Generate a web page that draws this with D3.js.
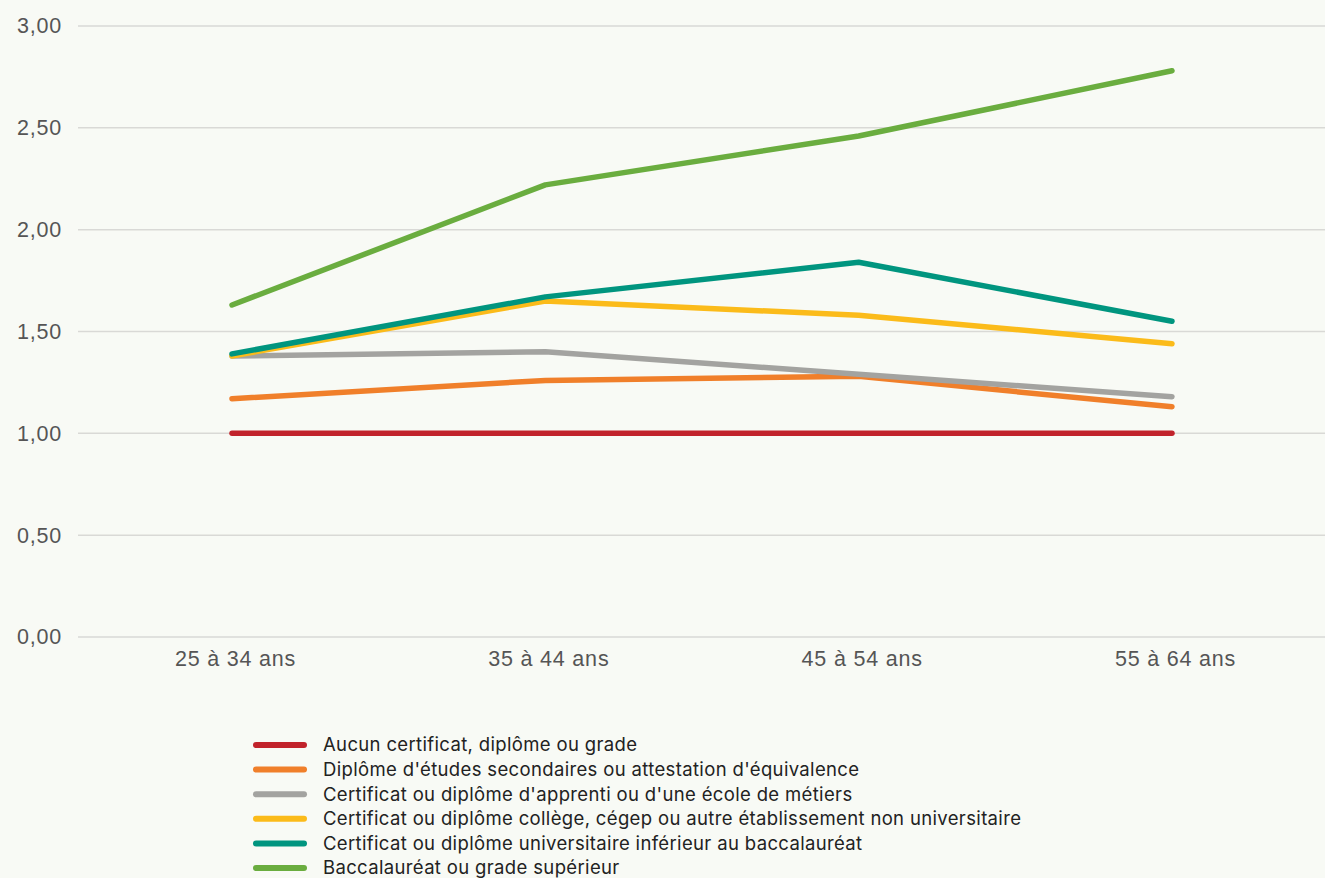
<!DOCTYPE html>
<html><head><meta charset="utf-8">
<script src="https://cdn.jsdelivr.net/npm/d3@7"></script>
<style>
html,body{margin:0;padding:0;background:#f8faf5;}
svg{display:block;}
</style></head>
<body>
<svg id="chart" width="1325" height="878"></svg>
<script>
const categories = ["25 à 34 ans", "35 à 44 ans", "45 à 54 ans", "55 à 64 ans"];
const seriesNames = [
  "Aucun certificat, diplôme ou grade",
  "Diplôme d'études secondaires ou attestation d'équivalence",
  "Certificat ou diplôme d'apprenti ou d'une école de métiers",
  "Certificat ou diplôme collège, cégep ou autre établissement non universitaire",
  "Certificat ou diplôme universitaire inférieur au baccalauréat",
  "Baccalauréat ou grade supérieur"
];
const aucun = [1.00, 1.00, 1.00, 1.00];
const secondaire = [1.17, 1.26, 1.28, 1.13];
const apprenti = [1.38, 1.40, 1.29, 1.18];
const college = [1.38, 1.65, 1.58, 1.44];
const universitaire = [1.39, 1.67, 1.84, 1.55];
const baccalaureat = [1.63, 2.22, 2.46, 2.78];
const seriesValues = [aucun, secondaire, apprenti, college, universitaire, baccalaureat];
const colors = ["#c1232b", "#f07f2a", "#a3a3a0", "#fbbb1a", "#00957f", "#6aad3f"];
const yTicks = [0, 0.5, 1, 1.5, 2, 2.5, 3];

(function(){
const svg = d3.select("#chart");
const mLeft = 78, mRight = 1325, mTop = 26, mBottom = 637;

const x = d3.scalePoint().domain(categories).range([232, 1172]);
const y = d3.scaleLinear().domain([0, 3]).range([mBottom, mTop]);
const fmt = v => d3.format(".2f")(v).replace(".", ",");

svg.append("g").selectAll("line").data(yTicks).join("line")
  .attr("x1", mLeft).attr("x2", mRight)
  .attr("y1", d => y(d)).attr("y2", d => y(d))
  .attr("stroke", "#d9d9d6").attr("stroke-width", 1.5);

const yAxis = d3.axisLeft(y).tickValues(yTicks).tickFormat(fmt).tickSize(0).tickPadding(0);
const gy = svg.append("g").attr("transform", "translate(62,0)").call(yAxis);
gy.select(".domain").remove();
gy.selectAll("text").attr("font-family", "Liberation Sans, Arial, sans-serif")
  .attr("font-size", 21.5).attr("letter-spacing", 0.8).attr("fill", "#555");

const xAxis = d3.axisBottom(x).tickSize(0).tickPadding(0);
const gx = svg.append("g").attr("transform", `translate(3,${mBottom+14})`).call(xAxis);
gx.select(".domain").remove();
gx.selectAll("text").attr("font-family", "Liberation Sans, Arial, sans-serif")
  .attr("font-size", 21.5).attr("letter-spacing", 0.8).attr("fill", "#555");

const line = d3.line().x((d, i) => x(categories[i])).y(d => y(d));
svg.append("g").selectAll("path").data(seriesValues).join("path")
  .attr("d", d => line(d))
  .attr("fill", "none")
  .attr("stroke", (d, i) => colors[i])
  .attr("stroke-width", 5.5)
  .attr("stroke-linecap", "round")
  .attr("stroke-linejoin", "round");

const lg = svg.append("g");
const rows = lg.selectAll("g").data(seriesNames).join("g")
  .attr("transform", (d, i) => `translate(0,${745 + i * 24.6})`);
rows.append("line").attr("x1", 256).attr("x2", 304).attr("y1", 0).attr("y2", 0)
  .attr("stroke", (d, i) => colors[i]).attr("stroke-width", 6).attr("stroke-linecap", "round");
rows.append("text").attr("x", 323).attr("y", 0).attr("dy", "0.35em")
  .attr("font-family", "Inter, sans-serif").attr("font-size", 18.5).attr("letter-spacing", 0.35).attr("fill", "#222")
  .text(d => d);
})();
</script>
</body></html>
